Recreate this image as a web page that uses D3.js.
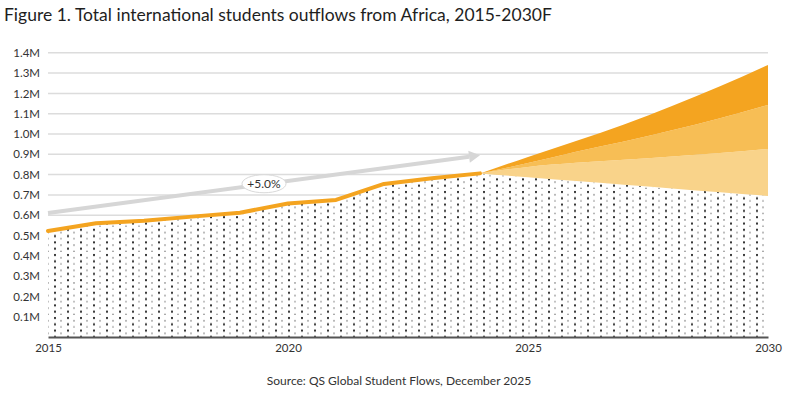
<!DOCTYPE html>
<html>
<head>
<meta charset="utf-8">
<script src="https://cdn.jsdelivr.net/npm/d3@7"></script>
<style>
  html, body { margin: 0; padding: 0; background: #fff; }
  svg { display: block; font-family: Lato, "Open Sans", sans-serif; }
</style>
</head>
<body>
<svg id="chart" width="798" height="394"></svg>
<script>
// ---- data (values in millions of students) ----
const actualYears = [2015, 2016, 2017, 2018, 2019, 2020, 2021, 2022, 2023, 2024];
const actualValues = [0.522, 0.560, 0.573, 0.593, 0.612, 0.658, 0.675, 0.754, 0.782, 0.806];

const forecastYears = [2024, 2025, 2026, 2027, 2028, 2029, 2030];
const forecastLow = [0.806, 0.787, 0.768, 0.750, 0.732, 0.713, 0.695];
const forecastMidLow = [0.806, 0.838, 0.858, 0.873, 0.889, 0.906, 0.926];
const forecastMidHigh = [0.806, 0.857, 0.913, 0.963, 1.018, 1.077, 1.143];
const forecastHigh = [0.806, 0.887, 0.965, 1.047, 1.138, 1.235, 1.340];

const yTickValues = [0.1, 0.2, 0.3, 0.4, 0.5, 0.6, 0.7, 0.8, 0.9, 1.0, 1.1, 1.2, 1.3, 1.4];
const xTickValues = [2015, 2020, 2025, 2030];

const trendYears = [2015, 2024];
const trendValues = [0.611, 0.895];
const trendLabel = "+5.0%";
const trendLabelPos = [2019.5, 0.755];

const titleText = "Figure 1. Total international students outflows from Africa, 2015-2030F";
const sourceText = "Source: QS Global Student Flows, December 2025";

// ---- layout ----
const svg = d3.select("#chart");

const x = d3.scaleLinear().domain([2015, 2030]).range([48, 768]);
const y = d3.scaleLinear().domain([0, 1.4]).range([337, 52.8]);

const colDark = "#F4A420", colMid = "#F7BE55", colLight = "#F9D38A";

// pattern
const defs = svg.append("defs");
const pat = defs.append("pattern")
  .attr("id", "dots").attr("patternUnits", "userSpaceOnUse")
  .attr("width", 13).attr("height", 12.6);
pat.append("rect").attr("width", 13).attr("height", 12.6).attr("fill", "#fff");
pat.append("rect").attr("x", 2).attr("y", 2).attr("width", 2).attr("height", 2).attr("fill", "#333");
pat.append("rect").attr("x", 2).attr("y", 8.3).attr("width", 2).attr("height", 2).attr("fill", "#333");
pat.append("rect").attr("x", 8.5).attr("y", 5).attr("width", 1).attr("height", 1.5).attr("fill", "#555");
pat.append("rect").attr("x", 8.5).attr("y", 11.3).attr("width", 1).attr("height", 1.3).attr("fill", "#555");

// title
svg.append("text").attr("x", 4).attr("y", 21)
  .attr("font-size", 17.5).attr("fill", "#1e1e1e").text(titleText);

// gridlines
svg.append("g").selectAll("line").data(yTickValues).join("line")
  .attr("x1", x(2015)).attr("x2", x(2030))
  .attr("y1", d => y(d)).attr("y2", d => y(d))
  .attr("stroke", "#dcdcdc").attr("stroke-width", 1.5);

// y axis labels
const yAxis = d3.axisLeft(y).tickValues(yTickValues).tickSize(0).tickPadding(0)
  .tickFormat(d => d.toFixed(1) + "M");
const gy = svg.append("g").attr("transform", "translate(40,0)").call(yAxis);
gy.select(".domain").remove();
gy.selectAll("text").attr("font-size", 11.5).attr("fill", "#333").attr("font-family", "Lato, sans-serif");

// dotted area (actual + low scenario)
const baseYears = actualYears.concat(forecastYears.slice(1));
const baseVals = actualValues.concat(forecastLow.slice(1));
const baseData = baseYears.map((yr, i) => ({ yr, v: baseVals[i] }));
svg.append("path").datum(baseData)
  .attr("d", d3.area().x(d => x(d.yr)).y0(y(0)).y1(d => y(d.v)))
  .attr("fill", "url(#dots)");

// forecast bands
const fc = forecastYears.map((yr, i) => ({
  yr, low: forecastLow[i], ml: forecastMidLow[i], mh: forecastMidHigh[i], hi: forecastHigh[i]
}));
const band = (a, b) => d3.area().curve(d3.curveMonotoneX)
  .x(d => x(d.yr)).y0(d => y(d[a])).y1(d => y(d[b]));
svg.append("path").attr("d", band("low", "ml")(fc)).attr("fill", colLight);
svg.append("path").attr("d", band("ml", "mh")(fc)).attr("fill", colMid);
svg.append("path").attr("d", band("mh", "hi")(fc)).attr("fill", colDark);

// actual line
const actData = actualYears.map((yr, i) => ({ yr, v: actualValues[i] }));
svg.append("path").datum(actData)
  .attr("d", d3.line().x(d => x(d.yr)).y(d => y(d.v)))
  .attr("fill", "none").attr("stroke", colDark).attr("stroke-width", 4)
  .attr("stroke-linejoin", "round").attr("stroke-linecap", "round");

// x axis
const xAxis = d3.axisBottom(x).tickValues(xTickValues).tickSize(0).tickPadding(7)
  .tickFormat(d3.format("d"));
const gx = svg.append("g").attr("transform", `translate(0,${y(0)})`).call(xAxis);
gx.select(".domain").attr("stroke", "#555").attr("stroke-width", 2);
gx.selectAll("text").attr("font-size", 11.5).attr("fill", "#333").attr("font-family", "Lato, sans-serif");

// trend arrow
const ax1 = x(trendYears[0]), ay1 = y(trendValues[0]);
const ax2 = x(trendYears[1]), ay2 = y(trendValues[1]);
const ang = Math.atan2(ay2 - ay1, ax2 - ax1);
const headLen = 11, headW = 6;
const bx = ax2 - headLen * Math.cos(ang), by = ay2 - headLen * Math.sin(ang);
svg.append("line").attr("x1", ax1).attr("y1", ay1).attr("x2", bx).attr("y2", by)
  .attr("stroke", "#d6d6d6").attr("stroke-width", 4);
svg.append("path")
  .attr("d", `M${ax2},${ay2} L${bx - headW * Math.sin(ang)},${by + headW * Math.cos(ang)} L${bx + headW * Math.sin(ang)},${by - headW * Math.cos(ang)} Z`)
  .attr("fill", "#d6d6d6");

const lx = x(trendLabelPos[0]), ly = y(trendLabelPos[1]);
svg.append("ellipse").attr("cx", lx).attr("cy", ly).attr("rx", 22).attr("ry", 9)
  .attr("fill", "#fff").attr("stroke", "#d9d9d9").attr("stroke-width", 1);
svg.append("text").attr("x", lx).attr("y", ly + 4).attr("text-anchor", "middle")
  .attr("font-size", 12).attr("fill", "#333").text(trendLabel);

// source
svg.append("text").attr("x", 399).attr("y", 385).attr("text-anchor", "middle")
  .attr("font-size", 12).attr("fill", "#333").text(sourceText);
</script>
</body>
</html>
